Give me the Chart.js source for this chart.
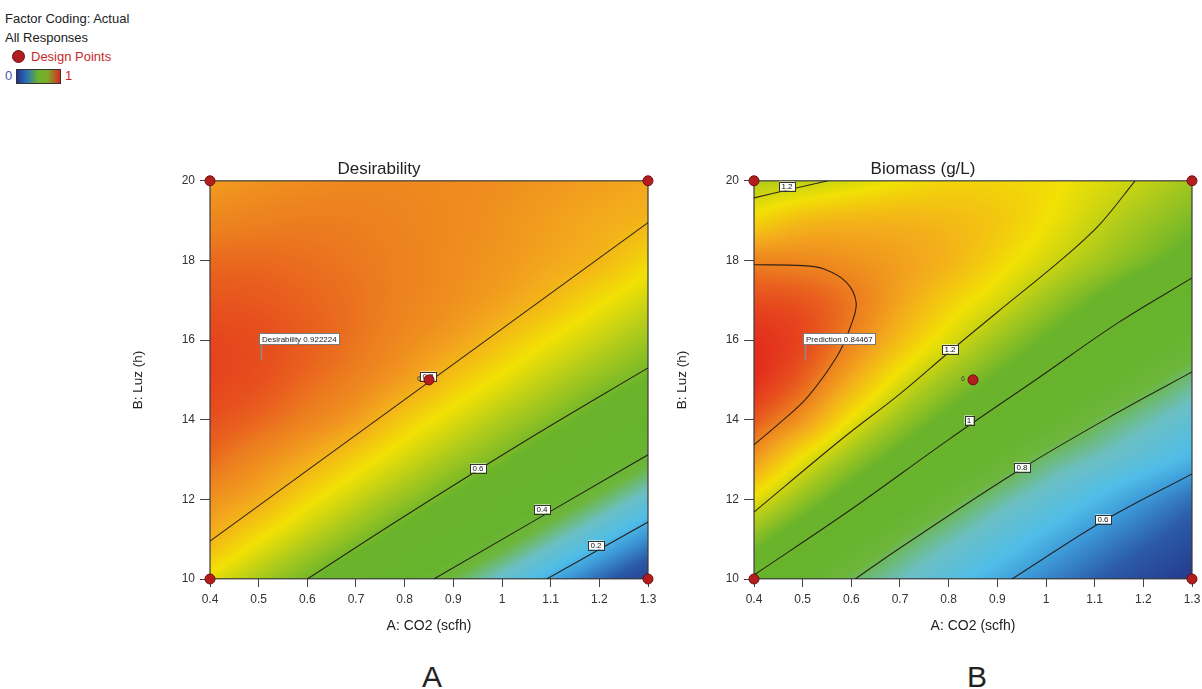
<!DOCTYPE html>
<html>
<head>
<meta charset="utf-8">
<script src="https://cdn.jsdelivr.net/npm/chart.js@4.4.1/dist/chart.umd.min.js"></script>
<style>
  html, body { margin: 0; width: 1202px; height: 689px; overflow: hidden; background: #fff; font-family: "Liberation Sans", Arial, sans-serif; color: #222; }
  canvas { position: absolute; }
  .key { position: absolute; left: 5px; top: 9px; font-size: 13px; line-height: 19px; }
  .key .dp { color: #c62b2b; padding-left: 26px; position: relative; }
  .key .dot { position: absolute; left: 7px; top: 3px; width: 11px; height: 11px; border-radius: 50%; background: #b31d1d; border: 1px solid #6d0f0f; }
  .key .ramp { position: relative; height: 19px; }
  .key .lo { position: absolute; left: 0; color: #4a58a6; }
  .key .hi { position: absolute; left: 60px; color: #c62b2b; }
  .key .bar { position: absolute; left: 11px; top: 3px; width: 43px; height: 13px; border: 1px solid #333; }
  .panel { position: absolute; top: 662px; width: 60px; margin-left: -30px; text-align: center; font-size: 30px; line-height: 30px; color: #222; }
</style>
</head>
<body>
<div class="key">
  <div>Factor Coding: Actual</div>
  <div>All Responses</div>
  <div class="dp"><span class="dot"></span>Design Points</div>
  <div class="ramp"><span class="lo">0</span><span class="bar" id="ramp"></span><span class="hi">1</span></div>
</div>
<canvas id="desirability" width="558" height="510" style="left:110px; top:150px"></canvas>
<canvas id="biomass" width="558" height="510" style="left:654px; top:150px"></canvas>
<div class="panel" style="left:432px">A</div>
<div class="panel" style="left:977px">B</div>
<script>
const FONT = '"Liberation Sans", Arial, sans-serif';

// axis ticks
const xTicks = [0.4, 0.5, 0.6, 0.7, 0.8, 0.9, 1, 1.1, 1.2, 1.3];
const yTicks = [10, 12, 14, 16, 18, 20];

// surface nodes: columns follow A (CO2), rows follow B (Luz), bottom row first
const co2Nodes = [0.4, 0.5, 0.6, 0.7, 0.8, 0.9, 1.0, 1.1, 1.2, 1.3];
const luzNodes = [10, 11, 12, 13, 14, 15, 16, 17, 18, 19, 20];

const desirabilityGrid = [
  [0.730, 0.665, 0.600, 0.523, 0.446, 0.365, 0.278, 0.190, 0.104, 0.020],
  [0.804, 0.743, 0.682, 0.621, 0.551, 0.476, 0.401, 0.316, 0.231, 0.147],
  [0.848, 0.812, 0.753, 0.696, 0.639, 0.577, 0.504, 0.431, 0.352, 0.269],
  [0.888, 0.855, 0.815, 0.763, 0.709, 0.656, 0.602, 0.531, 0.460, 0.388],
  [0.912, 0.893, 0.865, 0.830, 0.771, 0.720, 0.670, 0.619, 0.556, 0.486],
  [0.922, 0.912, 0.890, 0.865, 0.830, 0.779, 0.731, 0.683, 0.635, 0.587],
  [0.921, 0.915, 0.900, 0.880, 0.855, 0.828, 0.785, 0.740, 0.695, 0.649],
  [0.908, 0.905, 0.895, 0.882, 0.865, 0.848, 0.825, 0.792, 0.748, 0.705],
  [0.890, 0.890, 0.885, 0.877, 0.866, 0.853, 0.840, 0.820, 0.798, 0.755],
  [0.862, 0.868, 0.872, 0.870, 0.863, 0.855, 0.845, 0.830, 0.815, 0.800],
  [0.832, 0.845, 0.853, 0.858, 0.858, 0.855, 0.850, 0.840, 0.830, 0.820]
];

const biomassGrid = [
  [0.990, 0.899, 0.807, 0.743, 0.681, 0.619, 0.561, 0.506, 0.451, 0.396],
  [1.114, 1.010, 0.916, 0.823, 0.754, 0.692, 0.631, 0.572, 0.517, 0.462],
  [1.238, 1.132, 1.030, 0.936, 0.845, 0.770, 0.709, 0.648, 0.588, 0.528],
  [1.360, 1.240, 1.138, 1.043, 0.954, 0.871, 0.792, 0.739, 0.686, 0.632],
  [1.440, 1.364, 1.244, 1.143, 1.054, 0.970, 0.896, 0.822, 0.760, 0.703],
  [1.480, 1.430, 1.333, 1.230, 1.144, 1.064, 0.986, 0.917, 0.848, 0.780],
  [1.480, 1.455, 1.390, 1.306, 1.225, 1.146, 1.069, 0.994, 0.930, 0.868],
  [1.450, 1.440, 1.405, 1.344, 1.280, 1.220, 1.148, 1.074, 1.000, 0.926],
  [1.390, 1.385, 1.370, 1.350, 1.320, 1.270, 1.215, 1.158, 1.098, 1.040],
  [1.270, 1.310, 1.320, 1.320, 1.310, 1.290, 1.250, 1.200, 1.150, 1.100],
  [1.170, 1.190, 1.220, 1.250, 1.270, 1.270, 1.260, 1.230, 1.195, 1.150]
];

// runs of the design
const designPoints = [[0.4, 10], [0.4, 20], [1.3, 10], [1.3, 20], [0.85, 15]];
const centreRuns = '6';

// contour lines, one list of (A, B) pairs per level, with a label position
const desirabilityLevels = ['0.8', '0.6', '0.4', '0.2'];
const desirabilityContours = [
  [[0.4, 10.95], [1.3, 18.95]],
  [[0.6, 10], [0.79, 11.5], [1.051, 13.49], [1.3, 15.3]],
  [[0.86, 10], [1.3, 13.12]],
  [[1.092, 10], [1.3, 11.43]]
];
const desirabilityLabelAt = [[0.848, 15.1], [0.951, 12.8], [1.082, 11.75], [1.193, 10.85]];

const biomassLevels = ['1.2', '1.4', '1.2', '1', '0.8', '0.6'];
const biomassContours = [
  [[0.4, 19.57], [0.48, 19.8], [0.552, 20]],
  [[0.4, 17.89], [0.5, 17.87], [0.545, 17.78], [0.59, 17.45], [0.61, 16.93], [0.598, 16.33], [0.57, 15.58], [0.51, 14.57], [0.453, 13.92], [0.4, 13.37]],
  [[0.4, 11.68], [0.583, 13.54], [0.7, 14.65], [0.803, 15.72], [0.9, 16.7], [1.03, 18.0], [1.11, 18.9], [1.183, 20]],
  [[0.4, 10.1], [0.6, 11.75], [0.8, 13.5], [0.988, 15.08], [1.15, 16.45], [1.3, 17.56]],
  [[0.608, 10], [0.7, 10.78], [0.951, 12.78], [1.15, 14.2], [1.3, 15.2]],
  [[0.93, 10], [1.117, 11.45], [1.3, 12.64]]
];
const biomassLabelAt = [[0.468, 19.87], null, [0.803, 15.78], [0.842, 14.0], [0.951, 12.81], [1.117, 11.5]];

// flagged optimum
const flagPoint = [0.505, 15.48];
const desirabilityFlag = 'Desirability 0.922224';
const biomassFlag = 'Prediction 0.84467';

// blue -> green -> yellow -> red ramp used for the surfaces
const colourStops = [
  [0.00, '#263a8c'], [0.09, '#2b5aa8'], [0.17, '#3c97d6'], [0.23, '#4fbde8'],
  [0.31, '#6bbfc4'], [0.39, '#6db63c'], [0.46, '#67b32d'], [0.62, '#6ab42b'],
  [0.70, '#a9c91d'], [0.78, '#f2e104'], [0.86, '#f3a91d'], [0.92, '#ec7c1f'],
  [1.00, '#e2241c']
];
// the small key swatch only runs blue -> green -> red
const keyStops = [[0, '#22348c'], [0.22, '#2d6fb6'], [0.5, '#6ab42c'], [0.72, '#7ea82a'], [1, '#dc2a1c']];

function hexRgb(h) {
  return [parseInt(h.slice(1, 3), 16), parseInt(h.slice(3, 5), 16), parseInt(h.slice(5, 7), 16)];
}

const LUT_SIZE = 1024;
const lut = [];
for (let i = 0; i < LUT_SIZE; i++) {
  const t = i / (LUT_SIZE - 1);
  let k = 1;
  while (k < colourStops.length - 1 && colourStops[k][0] < t) k++;
  const [t0, c0] = colourStops[k - 1], [t1, c1] = colourStops[k];
  const f = Math.min(Math.max((t - t0) / (t1 - t0), 0), 1);
  const a = hexRgb(c0), b = hexRgb(c1);
  lut.push([0, 1, 2].map((j) => a[j] + (b[j] - a[j]) * f));
}

document.getElementById('ramp').style.background =
  'linear-gradient(to right, ' + keyStops.map(([t, c]) => `${c} ${t * 100}%`).join(', ') + ')';

function catmull(p0, p1, p2, p3, t) {
  return 0.5 * (2 * p1 + (p2 - p0) * t + (2 * p0 - 5 * p1 + 4 * p2 - p3) * t * t + (3 * p1 - p0 - 3 * p2 + p3) * t * t * t);
}

function node(grid, r, c) {
  const ny = grid.length, nx = grid[0].length;
  if (r < 0) return 2 * node(grid, 0, c) - node(grid, 1, c);
  if (r >= ny) return 2 * node(grid, ny - 1, c) - node(grid, ny - 2, c);
  if (c < 0) return 2 * grid[r][0] - grid[r][1];
  if (c >= nx) return 2 * grid[r][nx - 1] - grid[r][nx - 2];
  return grid[r][c];
}

function surfaceAt(grid, a, b) {
  const fx = (a - co2Nodes[0]) / (co2Nodes[1] - co2Nodes[0]);
  const fy = (b - luzNodes[0]) / (luzNodes[1] - luzNodes[0]);
  const ix = Math.min(Math.max(Math.floor(fx), 0), co2Nodes.length - 2);
  const iy = Math.min(Math.max(Math.floor(fy), 0), luzNodes.length - 2);
  const tx = fx - ix, ty = fy - iy;
  const rows = [];
  for (let k = -1; k <= 2; k++) {
    rows.push(catmull(node(grid, iy + k, ix - 1), node(grid, iy + k, ix), node(grid, iy + k, ix + 1), node(grid, iy + k, ix + 2), tx));
  }
  return catmull(rows[0], rows[1], rows[2], rows[3], ty);
}

// colour fill of the response surface plus the plot frame
const surfacePlugin = {
  id: 'surface',
  beforeDraw(chart, args, opts) {
    const { ctx, chartArea: area, scales: { x, y } } = chart;
    const w = Math.round(area.right - area.left), h = Math.round(area.bottom - area.top);
    const off = document.createElement('canvas');
    off.width = w;
    off.height = h;
    const octx = off.getContext('2d');
    const img = octx.createImageData(w, h);
    for (let j = 0; j < h; j++) {
      const b = y.getValueForPixel(area.top + j + 0.5);
      for (let i = 0; i < w; i++) {
        const v = surfaceAt(opts.grid, x.getValueForPixel(area.left + i + 0.5), b);
        let t = (v - opts.lo) / (opts.hi - opts.lo);
        t = Math.min(Math.max(t, 0), 1);
        const c = lut[Math.round(t * (LUT_SIZE - 1))];
        const p = (j * w + i) * 4;
        img.data[p] = c[0];
        img.data[p + 1] = c[1];
        img.data[p + 2] = c[2];
        img.data[p + 3] = 255;
      }
    }
    octx.putImageData(img, 0, 0);
    ctx.save();
    ctx.drawImage(off, Math.round(area.left), Math.round(area.top));
    ctx.strokeStyle = '#3a3a3a';
    ctx.lineWidth = 1.2;
    ctx.strokeRect(area.left, area.top, w, h);
    ctx.restore();
  }
};

// contour value boxes, replicate count and flag; drawn after the last contour, below the points
const labelPlugin = {
  id: 'surfaceLabels',
  afterDatasetDraw(chart, args, opts) {
    if (args.index !== 1) return;
    const { ctx, scales: { x, y } } = chart;
    ctx.save();
    ctx.font = `8px ${FONT}`;
    ctx.textAlign = 'center';
    ctx.textBaseline = 'middle';
    opts.labelAt.forEach((pos, i) => {
      if (!pos) return;
      const px = Math.round(x.getPixelForValue(pos[0])), py = Math.round(y.getPixelForValue(pos[1]));
      const text = opts.levels[i];
      const w = Math.round(ctx.measureText(text).width + 5), h = 9;
      ctx.fillStyle = '#fff';
      ctx.fillRect(px - w / 2, py - h / 2, w, h);
      ctx.strokeStyle = '#333';
      ctx.lineWidth = 1;
      ctx.strokeRect(Math.round(px - w / 2) + 0.5, Math.round(py - h / 2) + 0.5, w, h);
      ctx.fillStyle = '#111';
      ctx.fillText(text, px, py + 0.5);
    });

    const [ca, cb] = designPoints[designPoints.length - 1];
    ctx.font = `7px ${FONT}`;
    ctx.fillStyle = '#444';
    ctx.fillText(centreRuns, x.getPixelForValue(ca) - 10, y.getPixelForValue(cb) - 1);

    const fx = Math.round(x.getPixelForValue(flagPoint[0])) + 0.5, fy = y.getPixelForValue(flagPoint[1]);
    ctx.strokeStyle = '#8c8c8c';
    ctx.lineWidth = 1.5;
    ctx.beginPath();
    ctx.moveTo(fx, fy);
    ctx.lineTo(fx, fy - 17);
    ctx.stroke();
    ctx.font = `8px ${FONT}`;
    const fw = Math.round(ctx.measureText(opts.flag).width + 5), fh = 11;
    const bx = fx - 2, by = Math.round(fy - 17 - fh) + 0.5;
    ctx.fillStyle = '#fff';
    ctx.fillRect(bx, by, fw, fh);
    ctx.strokeStyle = '#7a7a7a';
    ctx.lineWidth = 1;
    ctx.strokeRect(bx, by, fw, fh);
    ctx.fillStyle = '#1a1a1a';
    ctx.textAlign = 'left';
    ctx.fillText(opts.flag, bx + 2.5, by + fh / 2 + 0.5);
    ctx.restore();
  }
};

function surfaceChart(id, title, grid, lo, hi, levels, contours, labelAt, flag) {
  const datasets = [{
    data: designPoints.map(([a, b]) => ({ x: a, y: b })),
    pointRadius: 5,
    pointBackgroundColor: '#b31d1d',
    pointBorderColor: '#6d0f0f',
    pointBorderWidth: 1,
    clip: false
  }];
  contours.forEach((pts) => {
    datasets.push({
      data: pts.map(([a, b]) => ({ x: a, y: b })),
      showLine: true,
      pointRadius: 0,
      borderColor: 'rgba(30,22,16,0.9)',
      borderWidth: 1.1,
      tension: 0.35
    });
  });

  return new Chart(document.getElementById(id), {
    type: 'scatter',
    data: { datasets },
    options: {
      responsive: false,
      animation: false,
      events: [],
      layout: { padding: { top: 8.8, right: 20, bottom: 0, left: 0 } },
      plugins: {
        legend: { display: false },
        tooltip: { enabled: false },
        title: { display: true, text: title, color: '#222', font: { family: FONT, size: 17, weight: 'normal' }, padding: { top: 0, bottom: 1.6 } },
        surface: { grid, lo, hi },
        surfaceLabels: { levels, labelAt, flag }
      },
      scales: {
        x: {
          type: 'linear',
          min: 0.4,
          max: 1.3,
          afterBuildTicks: (s) => { s.ticks = xTicks.map((v) => ({ value: v })); },
          afterFit: (s) => { s.height = 81; },
          ticks: { callback: (v) => String(v), color: '#333', font: { family: FONT, size: 12 }, padding: 5, maxRotation: 0, autoSkip: false },
          grid: { drawOnChartArea: false, tickLength: 8, color: '#444' },
          border: { display: false },
          title: { display: true, text: 'A: CO2 (scfh)', color: '#222', font: { family: FONT, size: 14 }, padding: { top: 0, bottom: 25 } }
        },
        y: {
          type: 'linear',
          min: 10,
          max: 20,
          afterBuildTicks: (s) => { s.ticks = yTicks.map((v) => ({ value: v })); },
          afterFit: (s) => { s.width = 100; },
          ticks: { callback: (v) => String(v), color: '#333', font: { family: FONT, size: 12 }, padding: 5 },
          grid: { drawOnChartArea: false, tickLength: 10, color: '#444' },
          border: { display: false },
          title: { display: true, text: 'B: Luz (h)', color: '#222', font: { family: FONT, size: 13.5 }, padding: { top: 20, bottom: 0 } }
        }
      }
    },
    plugins: [surfacePlugin, labelPlugin]
  });
}

surfaceChart('desirability', 'Desirability', desirabilityGrid, 0, 0.95,
  desirabilityLevels, desirabilityContours, desirabilityLabelAt, desirabilityFlag);
surfaceChart('biomass', 'Biomass (g/L)', biomassGrid, 0.40, 1.49,
  biomassLevels, biomassContours, biomassLabelAt, biomassFlag);
</script>
</body>
</html>
